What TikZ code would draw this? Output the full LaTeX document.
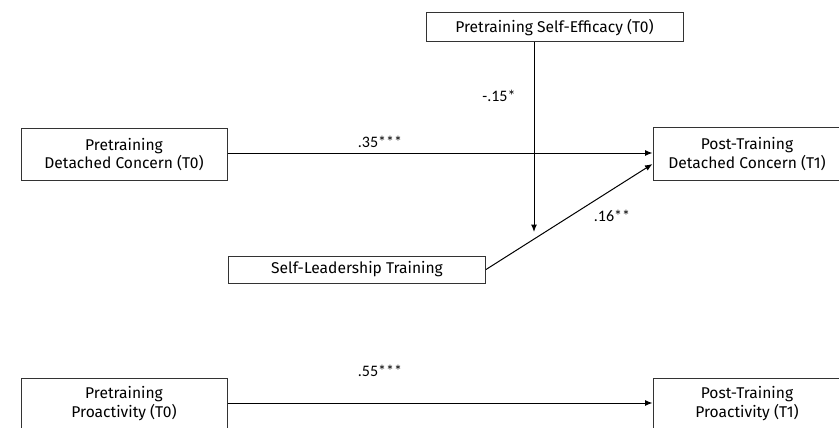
\documentclass[tikz,border=0pt]{standalone}
\usepackage{fontspec}
\setmainfont{Fira Sans}
\newfontfamily\labelfont{Carlito}
\usetikzlibrary{arrows.meta}
\begin{document}
\begin{tikzpicture}[x=1pt,y=-1pt,
  varbox/.style={draw=black!80, line width=1pt, fill=white, inner sep=0pt,
    align=center, font=\fontsize{15.6}{18.5}\selectfont},
  path/.style={line width=1pt, -{Latex[length=7.5pt,width=6pt]}},
  coef/.style={font=\labelfont\fontsize{16}{18}\selectfont}]
\useasboundingbox (0,0) rectangle (839,428);
\clip (0,0) rectangle (839,428);

% variables
\node[varbox, minimum width=257pt, minimum height=29pt] (eff) at (554.5,27.5) {Pretraining Self-Efficacy (T0)};
\node[varbox, minimum width=206pt, minimum height=51pt] (dc0) at (124,154.5) {Pretraining\\Detached Concern (T0)};
\node[varbox, minimum width=188pt, minimum height=52pt] (dc1) at (747,154) {Post-Training\\Detached Concern (T1)};
\node[varbox, minimum width=257pt, minimum height=27pt] (slt) at (357,269.5) {Self-Leadership Training};
\node[varbox, minimum width=206pt, minimum height=51pt] (pa0) at (124,403.5) {Pretraining\\Proactivity (T0)};
\node[varbox, minimum width=188pt, minimum height=51pt] (pa1) at (747,403.5) {Post-Training\\Proactivity (T1)};

% moderation target on the training path
\coordinate (mod) at (534,232);

% paths
\draw[path] (dc0.east |- 0,153) -- (dc1.west |- 0,153);
\draw[path] (slt.east) -- (dc1.west |- 0,164);
\draw[path] (eff.south -| mod) -- (mod);
\draw[path] (pa0.east |- 0,403) -- (pa1.west |- 0,403);

% coefficients
\node[coef] (c35) at (380,142) {.35***};
\node[coef] (c15) at (499,96) {-.15*};
\node[coef] (c16) at (612,216) {.16**};
\node[coef] (c55) at (380,371) {.55***};
\end{tikzpicture}
\end{document}
